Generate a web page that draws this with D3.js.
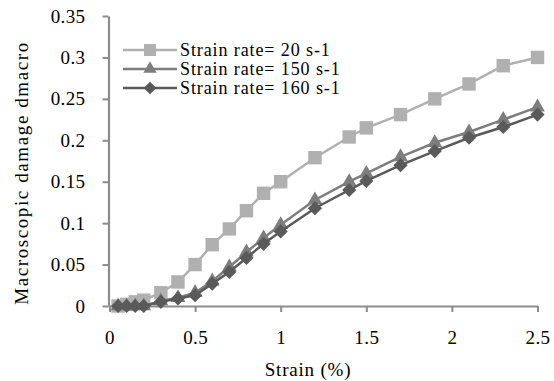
<!DOCTYPE html>
<html>
<head>
<meta charset="utf-8">
<script src="https://cdn.jsdelivr.net/npm/d3@7"></script>
<style>
  body { margin: 0; background: #fff; }
</style>
</head>
<body>
<div id="chart"></div>
<script>
const strain = [0.05, 0.1, 0.15, 0.2, 0.3, 0.4, 0.5, 0.6, 0.7, 0.8, 0.9, 1.0, 1.2, 1.4, 1.5, 1.7, 1.9, 2.1, 2.3, 2.5];
const rate20 = [0, 0.002, 0.005, 0.007, 0.016, 0.029, 0.05, 0.074, 0.093, 0.115, 0.136, 0.15, 0.179, 0.204, 0.215, 0.231, 0.25, 0.268, 0.29, 0.30];
const rate150 = [0, 0, 0, 0, 0.006, 0.01, 0.016, 0.03, 0.047, 0.065, 0.082, 0.098, 0.128, 0.15, 0.16, 0.18, 0.197, 0.21, 0.225, 0.24];
const rate160 = [0, 0, 0, 0, 0.005, 0.009, 0.013, 0.027, 0.041, 0.058, 0.075, 0.09, 0.118, 0.14, 0.151, 0.17, 0.187, 0.203, 0.216, 0.231];
const seriesNames = ['Strain rate= 20 s-1', 'Strain rate= 150 s-1', 'Strain rate= 160 s-1'];
const xTicks = [0, 0.5, 1, 1.5, 2, 2.5];
const yTicks = [0, 0.05, 0.1, 0.15, 0.2, 0.25, 0.3, 0.35];

const W = 554, H = 381;
const FONT = "'Liberation Serif', 'DejaVu Serif', serif";
const series = [
  {name: seriesNames[0], values: rate20, color: '#b0b0b0', symbol: d3.symbolSquare, size: 180, rot: 0},
  {name: seriesNames[1], values: rate150, color: '#7d7d7d', symbol: d3.symbolTriangle, size: 95, rot: 0},
  {name: seriesNames[2], values: rate160, color: '#5a5a5a', symbol: d3.symbolSquare, size: 100, rot: 45}
];

const svg = d3.select('#chart').append('svg')
  .attr('width', W)
  .attr('height', H)
  .style('font-family', FONT);

const x = d3.scaleLinear().domain([0, 2.5]).range([109.5, 537.5]);
const y = d3.scaleLinear().domain([0, 0.35]).range([306, 16]);

// axes
const xAxis = svg.append('g')
  .attr('transform', 'translate(0,' + y(0) + ')')
  .call(d3.axisBottom(x).tickValues(xTicks).tickSize(6).tickSizeOuter(0).tickPadding(19)
    .tickFormat(d3.format('')));
const yAxis = svg.append('g')
  .attr('transform', 'translate(' + (x(0) - 1) + ',0)')
  .call(d3.axisLeft(y).tickValues(yTicks).tickSize(6).tickSizeOuter(0).tickPadding(17)
    .tickFormat(d3.format('')));

[xAxis, yAxis].forEach(function(a) {
  a.attr('font-family', null).attr('font-size', null);
  a.select('.domain').attr('stroke', '#8c8c8c').attr('stroke-width', 2.2);
  a.selectAll('.tick line').attr('stroke', '#8c8c8c').attr('stroke-width', 2);
  a.selectAll('.tick text')
    .style('font-family', FONT)
    .style('font-size', '19px')
    .style('letter-spacing', '0.4px')
    .attr('fill', '#000');
});
yAxis.selectAll('.tick text').attr('dy', '0.32em');

// lines & markers
const line = d3.line()
  .x(function(d, i) { return x(strain[i]); })
  .y(function(d) { return y(d); });

series.forEach(function(s) {
  const g = svg.append('g');
  g.append('path')
    .datum(s.values)
    .attr('d', line)
    .attr('fill', 'none')
    .attr('stroke', s.color)
    .attr('stroke-width', 2.5);
  g.selectAll('path.m')
    .data(s.values)
    .enter()
    .append('path')
    .attr('class', 'm')
    .attr('transform', function(d, i) {
      return 'translate(' + x(strain[i]) + ',' + y(d) + ') rotate(' + s.rot + ')';
    })
    .attr('d', d3.symbol().type(s.symbol).size(s.size))
    .attr('fill', s.color);
});

// legend
const legend = svg.append('g').attr('transform', 'translate(123,50)');
series.forEach(function(s, i) {
  const row = legend.append('g').attr('transform', 'translate(0,' + (i * 19) + ')');
  row.append('line')
    .attr('x1', 0).attr('x2', 54)
    .attr('stroke', s.color)
    .attr('stroke-width', 2.5);
  row.append('path')
    .attr('transform', 'translate(27,0) rotate(' + s.rot + ')')
    .attr('d', d3.symbol().type(s.symbol).size(s.size * 0.8))
    .attr('fill', s.color);
  row.append('text')
    .attr('x', 57)
    .attr('y', 6)
    .style('font-family', FONT)
    .style('font-size', '18px')
    .style('letter-spacing', '0.9px')
    .text(s.name);
});

// axis titles
svg.append('text')
  .attr('x', 308)
  .attr('y', 376)
  .attr('text-anchor', 'middle')
  .style('font-family', FONT)
  .style('font-size', '19px')
  .style('letter-spacing', '0.8px')
  .text('Strain (%)');

svg.append('text')
  .attr('transform', 'translate(28,173) rotate(-90)')
  .attr('text-anchor', 'middle')
  .style('font-family', FONT)
  .style('font-size', '19px')
  .style('letter-spacing', '1.6px')
  .text('Macroscopic damage dmacro');
</script>
</body>
</html>
